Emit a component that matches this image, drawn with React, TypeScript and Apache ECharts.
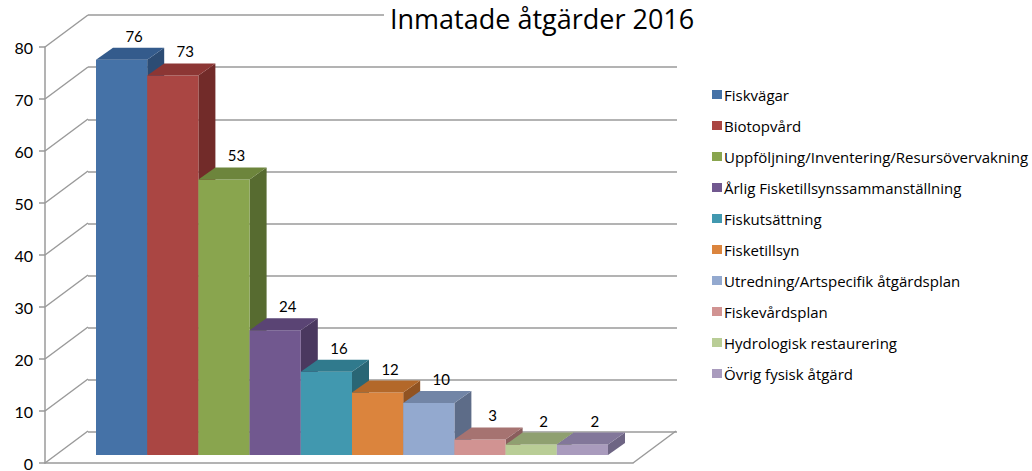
import React, { useEffect, useRef } from "react";
import * as echarts from "echarts";

const title = "Inmatade åtgärder 2016";
const categories = [
  "Fiskvägar",
  "Biotopvård",
  "Uppföljning/Inventering/Resursövervakning",
  "Årlig Fisketillsynssammanställning",
  "Fiskutsättning",
  "Fisketillsyn",
  "Utredning/Artspecifik åtgärdsplan",
  "Fiskevårdsplan",
  "Hydrologisk restaurering",
  "Övrig fysisk åtgärd",
];
const values = [76, 73, 53, 24, 16, 12, 10, 3, 2, 2];
const yTicks = [0, 10, 20, 30, 40, 50, 60, 70, 80];

const frontColors = ["#4572A7", "#AA4643", "#89A54E", "#71588F", "#4198AF", "#DB843D", "#93A9CF", "#D19392", "#B9CD96", "#A99BBD"];
const topColors = ["#345B8C", "#8C3634", "#6D853C", "#5A4474", "#307A8D", "#B3682A", "#7285A6", "#A67371", "#8FA070", "#82779A"];
const sideColors = ["#2C4C74", "#722B29", "#576B30", "#4A385F", "#296675", "#915322", "#5D6C88", "#8A5E5D", "#788760", "#6E6584"];

const GRID_COLOR = "#9A9A9A";
const DX = 17;
const DY = 12;
const WALL_DX = 43;
const WALL_DY = 32;
const FONT = "'Open Sans', Lato, sans-serif";
const NUM_FONT = "Lato, 'Open Sans', sans-serif";

export default function App() {
  const ref = useRef<HTMLDivElement>(null);
  useEffect(() => {
    document.body.style.margin = "0";
    const chart = echarts.init(ref.current!, null, { renderer: "svg" });

    const barSeries = categories.map((name, i) => ({
      name,
      type: "custom",
      xAxisIndex: 2,
      yAxisIndex: 2,
      itemStyle: { color: frontColors[i] },
      data: [[i, values[i]]],
      z: 5,
      renderItem: (params: any, api: any) => {
        const x = api.value(0);
        const v = api.value(1);
        const top = api.coord([x, v]);
        const base = api.coord([x, 0]);
        const w = api.size([1, 0])[0];
        const l = top[0] - w / 2;
        const r = top[0] + w / 2;
        const t = top[1];
        const b = base[1];
        return {
          type: "group",
          children: [
            {
              type: "polygon",
              shape: { points: [[r, t], [r + DX, t - DY], [r + DX, b - DY], [r, b]] },
              style: { fill: sideColors[i] },
            },
            {
              type: "rect",
              shape: { x: l, y: t, width: w, height: b - t },
              style: { fill: frontColors[i] },
            },
            {
              type: "polygon",
              shape: { points: [[l, t], [r, t], [r + DX, t - DY], [l + DX, t - DY]] },
              style: { fill: topColors[i] },
            },
            {
              type: "text",
              style: {
                text: String(v),
                x: top[0] + 12.5,
                y: t - DY - 12,
                align: "center",
                verticalAlign: "middle",
                fill: "#000",
                font: `15px ${NUM_FONT}`,
              },
            },
          ],
        };
      },
    }));

    const wallSeries = {
      type: "custom",
      xAxisIndex: 0,
      yAxisIndex: 0,
      silent: true,
      data: [...yTicks.map((t) => [0, t]), [1, 0]],
      z: 1,
      renderItem: (params: any, api: any) => {
        const p = api.coord([api.value(0), api.value(1)]);
        return {
          type: "line",
          shape: { x1: p[0], y1: p[1], x2: p[0] + WALL_DX, y2: p[1] - WALL_DY },
          style: { stroke: GRID_COLOR, lineWidth: 1.5 },
        };
      },
    };

    chart.setOption({
      animation: false,
      backgroundColor: "#fff",
      title: {
        text: title,
        left: 384,
        top: 3,
        backgroundColor: "#fff",
        padding: [2, 6, 0, 6],
        textStyle: { fontFamily: FONT, fontSize: 27, fontWeight: "normal", color: "#000" },
      },
      legend: {
        orient: "vertical",
        left: 707,
        top: 81,
        icon: "rect",
        itemWidth: 10,
        itemHeight: 9,
        itemGap: 14,
        data: categories,
        textStyle: { fontFamily: FONT, fontSize: 15, color: "#000", lineHeight: 17, padding: [0, 0, 0, -3] },
      },
      grid: [
        { left: 45, top: 47, width: 588, height: 417 },
        { left: 45 + WALL_DX, top: 47 - WALL_DY, width: 589, height: 417 },
        { left: 96, top: 39, width: 512, height: 416 },
      ],
      xAxis: [
        {
          gridIndex: 0,
          type: "value",
          min: 0,
          max: 1,
          axisLine: { show: true, onZero: false, lineStyle: { color: GRID_COLOR, width: 1.5 } },
          axisTick: { show: false },
          axisLabel: { show: false },
          splitLine: { show: false },
        },
        {
          gridIndex: 1,
          type: "value",
          min: 0,
          max: 1,
          show: false,
        },
        {
          gridIndex: 2,
          type: "category",
          data: categories,
          show: false,
        },
      ],
      yAxis: [
        {
          gridIndex: 0,
          type: "value",
          min: 0,
          max: 80,
          interval: 10,
          axisLine: { show: true, lineStyle: { color: GRID_COLOR, width: 1.5 } },
          axisTick: { show: true, inside: false, length: 6, lineStyle: { color: GRID_COLOR, width: 1.5 } },
          axisLabel: { margin: 12, fontFamily: NUM_FONT, fontSize: 16, color: "#000" },
          splitLine: { show: false },
        },
        {
          gridIndex: 1,
          type: "value",
          min: 0,
          max: 80,
          interval: 10,
          axisLine: { show: false },
          axisTick: { show: false },
          axisLabel: { show: false },
          splitLine: { show: true, lineStyle: { color: GRID_COLOR, width: 1.5 } },
        },
        {
          gridIndex: 2,
          type: "value",
          min: 0,
          max: 80,
          show: false,
          splitLine: { show: false },
        },
      ],
      series: [wallSeries, ...barSeries],
    });
    return () => chart.dispose();
  }, []);
  return <div ref={ref} style={{ width: 1032, height: 471 }} />;
}
